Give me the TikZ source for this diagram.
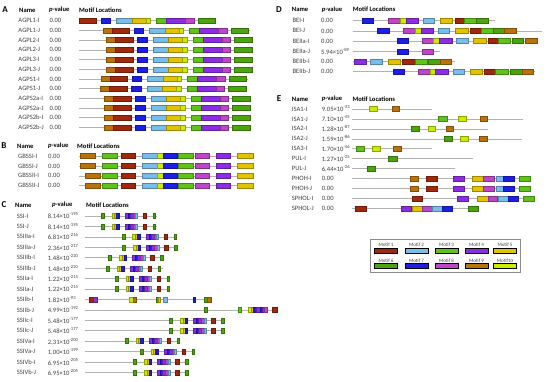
\documentclass[tikz,border=0pt]{standalone}
\usepackage{fontspec}
\setmainfont{Carlito}
\definecolor{m1}{RGB}{160,40,12}
\definecolor{m2}{RGB}{120,190,235}
\definecolor{m3}{RGB}{95,195,25}
\definecolor{m4}{RGB}{140,45,230}
\definecolor{m5}{RGB}{225,195,0}
\definecolor{m6}{RGB}{75,165,15}
\definecolor{m7}{RGB}{30,30,230}
\definecolor{m8}{RGB}{190,70,200}
\definecolor{m9}{RGB}{185,115,10}
\definecolor{m10}{RGB}{205,235,0}
\newcommand{\mot}[4]{\path[motif=m#1] (#3,#2-2.5) rectangle (#4,#2+2.5);}
\newcommand{\bbone}[3]{\draw[backbone] (#2,#1) -- (#3,#1);}
\newcommand{\pv}[2]{#1×10\textsuperscript{-#2}}
\newcommand{\agpcore}[2]{%
  \mot{1}{#1}{#2+9}{#2+26.7}
  \mot{7}{#1}{#2+31.3}{#2+40.7}
  \mot{2}{#1}{#2+46.7}{#2+62.3}
  \mot{5}{#1}{#2+62.3}{#2+76}
  \mot{10}{#1}{#2+76}{#2+80.7}
  \mot{3}{#1}{#2+86.7}{#2+96.7}
  \mot{4}{#1}{#2+96.7}{#2+115.7}
  \mot{8}{#1}{#2+115.7}{#2+124}
  \mot{6}{#1}{#2+128}{#2+145.7}}
\newcommand{\agp}[2]{\bbone{#1}{79}{#2+147}\mot{9}{#1}{#2}{#2+9}\agpcore{#1}{#2}}
\newcommand{\gbss}[2]{%
  \bbone{#1}{79}{253}
  \mot{9}{#1}{#2}{#2+15}
  \mot{3}{#1}{101.7}{116.7}
  \mot{1}{#1}{120.7}{135}
  \mot{2}{#1}{141.7}{156.7}
  \mot{10}{#1}{156.7}{162.7}
  \mot{7}{#1}{162.7}{176.7}
  \mot{3}{#1}{178}{192.7}
  \mot{8}{#1}{195}{209.3}
  \mot{4}{#1}{216}{230}
  \mot{5}{#1}{237.3}{252.7}}
\newcommand{\sscl}[3]{%
  \bbone{#1}{85}{#3}
  \mot{6}{#1}{#2}{#2+3}
  \mot{10}{#1}{#2+10.7}{#2+13.5}
  \mot{5}{#1}{#2+13.5}{#2+15.5}
  \mot{7}{#1}{#2+15.5}{#2+18}
  \mot{4}{#1}{#2+24}{#2+27}
  \mot{7}{#1}{#2+27}{#2+29}
  \mot{4}{#1}{#2+29}{#2+32}
  \mot{8}{#1}{#2+32}{#2+34.5}
  \mot{2}{#1}{#2+34.5}{#2+36.5}
  \mot{1}{#1}{#2+42}{#2+45.3}
  \mot{6}{#1}{#2+52}{#2+54.5}}
\newcommand{\phoh}[1]{%
  \bbone{#1}{352.3}{530}
  \mot{9}{#1}{410}{417.7}
  \mot{1}{#1}{425.7}{436.7}
  \mot{4}{#1}{453.3}{464}
  \mot{5}{#1}{472.3}{483.3}
  \mot{8}{#1}{483.3}{494.3}
  \mot{2}{#1}{495.7}{503.3}
  \mot{7}{#1}{503.3}{514.3}
  \mot{3}{#1}{519}{530}}
\begin{document}
\begin{tikzpicture}[x=1pt, y=-1pt,
    motif/.style={fill=#1, draw=#1!70!black, line width=0.2pt},
    backbone/.style={draw=black!30, line width=0.5pt},
    panel/.style={inner sep=0pt, font=\bfseries\fontsize{9}{10}\selectfont},
    head/.style={anchor=west, inner sep=0pt, font=\bfseries\fontsize{6.6}{7}\selectfont},
    lbl/.style={anchor=west, inner sep=0pt, text=black!75, font=\fontsize{6.6}{7}\selectfont},
    leglbl/.style={inner sep=0pt, text=black!75, font=\fontsize{5}{6}\selectfont},
    legbox/.style={motif=#1, draw=black, line width=0.4pt}]
  \useasboundingbox (0,0) rectangle (550,382);

  \node[panel] (pA) at (5,10) {A};
  \node[head] (nameA) at (19,10) {Name};
  \node[head] (pvA) at (49,10) {\textit{p}-value};
  \node[head] (locA) at (79,10) {Motif Locations};
  \foreach \n [count=\i from 0] in {AGPL1-I,AGPL1-J,AGPL2-I,AGPL2-J,AGPL3-I,AGPL3-J,AGPS1-I,AGPS1-J,AGPS2a-I,AGPS2a-J,AGPS2b-I,AGPS2b-J} {
    \node[lbl] (agp\i) at (18.3,{20.7+9.7*\i}) {\n};
    \node[lbl] (agpv\i) at (49.3,{20.7+9.7*\i}) {0.00};
  }
  \bbone{20.7}{79}{215.4}
  \agpcore{20.7}{69.7}
  \agp{30.4}{102.7}
  \agp{40.1}{106}
  \agp{49.8}{106}
  \agp{59.5}{106}
  \agp{69.2}{106}
  \agp{78.9}{100.7}
  \agp{88.6}{100}
  \agp{98.3}{104}
  \agp{108}{104}
  \agp{117.7}{104}
  \agp{127.4}{104}

  \node[panel] (pB) at (4,146) {B};
  \node[head] (nameB) at (17,146) {Name};
  \node[head] (pvB) at (48,146) {\textit{p}-value};
  \node[head] (locB) at (77,146) {Motif Locations};
  \foreach \n [count=\i from 0] in {GBSSI-I,GBSSI-J,GBSSII-I,GBSSII-J} {
    \node[lbl] (gb\i) at (18,{156+9.9*\i}) {\n};
    \node[lbl] (gbv\i) at (48,{156+9.9*\i}) {0.00};
  }
  \gbss{156}{80}
  \gbss{165.9}{80}
  \gbss{175.8}{85}
  \gbss{185.7}{85}

  \node[panel] (pC) at (4,205) {C};
  \node[head] (nameC) at (15,205) {Name};
  \node[head] (pvC) at (52,205) {\textit{p}-value};
  \node[head] (locC) at (86,205) {Motif Locations};
  \foreach \n/\p [count=\i from 0] in {SSI-I/\pv{8.14}{195},SSI-J/\pv{8.14}{195},SSIIIa-I/\pv{6.81}{216},SSIIIa-J/\pv{2.36}{217},SSIIIb-I/\pv{1.48}{220},SSIIIb-J/\pv{1.48}{220},SSIIa-I/\pv{1.22}{215},SSIIa-J/\pv{1.22}{215},SSIIb-I/\pv{1.82}{93},SSIIb-J/\pv{4.99}{192},SSIIc-I/\pv{5.48}{177},SSIIc-J/\pv{5.48}{177},SSIVa-I/\pv{2.31}{200},SSIVa-J/\pv{1.00}{199},SSIVb-I/\pv{6.95}{205},SSIVb-J/\pv{6.95}{205}} {
    \node[lbl] (ss\i) at (16.7,{216+10.43*\i}) {\n};
    \node[lbl] (ssv\i) at (47.7,{216+10.43*\i}) {\p};
  }
  \sscl{216}{101}{157}
  \sscl{226.4}{101}{157}
  \sscl{236.9}{121.7}{177}
  \sscl{247.3}{122.3}{177}
  \sscl{257.7}{108.3}{163}
  \sscl{268.2}{106}{163}
  \sscl{278.6}{115}{169}
  \sscl{289}{115}{169}
  \bbone{299.4}{85}{207}
  \mot{1}{299.4}{89.3}{93.5}
  \mot{4}{299.4}{93.5}{97.3}
  \mot{10}{299.4}{129.3}{132.7}
  \mot{9}{299.4}{132.7}{136}
  \mot{6}{299.4}{156}{158.5}
  \mot{5}{299.4}{158.5}{160}
  \mot{2}{299.4}{163.3}{166.7}
  \mot{7}{299.4}{193.3}{195.3}
  \mot{6}{299.4}{204}{207}
  \mot{9}{299.4}{207}{210.7}
  \bbone{309.9}{85}{277}
  \mot{6}{309.9}{204}{206.7}
  \mot{3}{309.9}{238.3}{240.7}
  \mot{10}{309.9}{248.3}{251}
  \mot{5}{309.9}{251}{253.3}
  \mot{7}{309.9}{253.3}{256}
  \mot{4}{309.9}{256}{260}
  \mot{7}{309.9}{260}{262}
  \mot{4}{309.9}{262}{264.5}
  \mot{8}{309.9}{264.5}{266.7}
  \mot{1}{309.9}{271.7}{276.7}
  \sscl{320.3}{169.5}{222}
  \sscl{330.7}{169.5}{222}
  \sscl{341.1}{125}{179}
  \sscl{351.6}{140}{193}
  \sscl{362}{133.3}{187}
  \sscl{372.4}{133.3}{187}

  \node[panel] (pD) at (279,9.3) {D};
  \node[head] (nameD) at (291.7,9.3) {Name};
  \node[head] (pvD) at (321.7,9.3) {\textit{p}-value};
  \node[head] (locD) at (352.7,9.3) {Motif Locations};
  \foreach \n/\p [count=\i from 0] in {BEI-I/0.00,BEI-J/0.00,BEIIa-I/0.00,BEIIa-J/\pv{5.94}{89},BEIIb-I/0.00,BEIIb-J/0.00} {
    \node[lbl] (be\i) at (292.3,{20.7+10.2*\i}) {\n};
    \node[lbl] (bev\i) at (321,{20.7+10.2*\i}) {\p};
  }
  \bbone{20.7}{352.7}{495}
  \mot{7}{20.7}{362.3}{373.3}
  \mot{8}{20.7}{388.3}{400}
  \mot{10}{20.7}{400}{405.7}
  \mot{4}{20.7}{405.7}{417.7}
  \mot{2}{20.7}{423.3}{434.3}
  \mot{5}{20.7}{440}{451.7}
  \mot{1}{20.7}{455}{464.3}
  \mot{3}{20.7}{464.3}{476}
  \mot{6}{20.7}{476}{488.3}
  \bbone{30.9}{352.7}{541.7}
  \mot{7}{30.9}{376.7}{389}
  \mot{8}{30.9}{403.3}{415}
  \mot{10}{30.9}{415}{421}
  \mot{4}{30.9}{421}{433.3}
  \mot{2}{30.9}{438.3}{449}
  \mot{5}{30.9}{455}{467.7}
  \mot{1}{30.9}{470}{481}
  \mot{3}{30.9}{481}{493.3}
  \mot{6}{30.9}{493.3}{504.3}
  \mot{9}{30.9}{504.3}{515.7}
  \bbone{41.1}{352.7}{537}
  \mot{7}{41.1}{396.7}{407.7}
  \mot{8}{41.1}{421.7}{433.3}
  \mot{10}{41.1}{433.3}{439}
  \mot{4}{41.1}{439}{451.7}
  \mot{2}{41.1}{456}{467.7}
  \mot{5}{41.1}{473.3}{485.7}
  \mot{1}{41.1}{487.7}{497.7}
  \mot{3}{41.1}{497.7}{510}
  \mot{6}{41.1}{511.7}{523.3}
  \mot{9}{41.1}{525}{536.7}
  \bbone{51.3}{352.7}{440}
  \mot{7}{51.3}{396.7}{407.7}
  \mot{8}{51.3}{422.3}{433.3}
  \bbone{61.5}{352.7}{455}
  \mot{4}{61.5}{354.3}{365.7}
  \mot{2}{61.5}{370}{381.7}
  \mot{5}{61.5}{387.7}{400}
  \mot{1}{61.5}{401.7}{415}
  \mot{3}{61.5}{415}{426.7}
  \mot{6}{61.5}{427.7}{440}
  \mot{9}{61.5}{440}{451}
  \bbone{71.7}{352.7}{535}
  \mot{7}{71.7}{393.3}{404.3}
  \mot{8}{71.7}{418.3}{430}
  \mot{10}{71.7}{430}{435}
  \mot{4}{71.7}{435}{447.7}
  \mot{2}{71.7}{453.3}{464.3}
  \mot{5}{71.7}{470}{481.7}
  \mot{1}{71.7}{484.3}{495}
  \mot{3}{71.7}{495}{508.3}
  \mot{6}{71.7}{510}{522.3}
  \mot{9}{71.7}{522.3}{533.3}

  \node[panel] (pE) at (279,99) {E};
  \node[head] (nameE) at (291.7,99) {Name};
  \node[head] (pvE) at (321.7,99) {\textit{p}-value};
  \node[head] (locE) at (352.3,99) {Motif Locations};
  \foreach \n/\p [count=\i from 0] in {ISA1-I/\pv{9.05}{33},ISA1-J/\pv{7.10}{45},ISA2-I/\pv{1.28}{87},ISA2-J/\pv{1.59}{86},ISA3-I/\pv{1.70}{46},PUL-I/\pv{1.27}{25},PUL-J/\pv{6.44}{26},PHOH-I/0.00,PHOH-J/0.00,SPHOL-I/0.00,SPHOL-J/0.00} {
    \node[lbl] (is\i) at (291.7,{109+9.93*\i}) {\n};
    \node[lbl] (isv\i) at (321.7,{109+9.93*\i}) {\p};
  }
  \bbone{109}{352.3}{431.7}
  \mot{10}{109}{369.3}{376.7}
  \mot{9}{109}{391.7}{399}
  \bbone{118.9}{352.3}{523.3}
  \mot{3}{118.9}{438.3}{446.7}
  \mot{10}{118.9}{458.3}{465.7}
  \mot{9}{118.9}{480}{487.3}
  \bbone{128.9}{352.3}{488.3}
  \mot{6}{128.9}{411}{419}
  \mot{10}{128.9}{427.7}{435}
  \mot{9}{128.9}{445.7}{453.3}
  \bbone{138.8}{352.3}{522.3}
  \mot{6}{138.8}{444.3}{451.7}
  \mot{10}{138.8}{460}{467.7}
  \mot{9}{138.8}{479}{486.7}
  \bbone{148.7}{352.3}{431.7}
  \mot{3}{148.7}{356}{364.3}
  \mot{10}{148.7}{372.3}{380}
  \mot{9}{148.7}{393.3}{401}
  \bbone{158.7}{352.3}{473.3}
  \mot{6}{158.7}{388.3}{396.7}
  \bbone{168.6}{352.3}{455}
  \mot{6}{168.6}{366.7}{375}
  \phoh{178.5}
  \phoh{188.4}
  \bbone{198.4}{352.3}{534.3}
  \mot{1}{198.4}{411.7}{422.3}
  \mot{4}{198.4}{456.7}{467.7}
  \mot{5}{198.4}{476.7}{487.7}
  \mot{8}{198.4}{487.7}{496.7}
  \mot{2}{198.4}{497.7}{507.7}
  \mot{7}{198.4}{507.7}{518.3}
  \mot{3}{198.4}{523.3}{534.3}
  \bbone{208.3}{352.3}{478.3}
  \mot{1}{208.3}{355}{365.7}
  \mot{4}{208.3}{401}{411}
  \mot{5}{208.3}{411.7}{421.7}
  \mot{8}{208.3}{421.7}{431.7}
  \mot{2}{208.3}{431.7}{441.7}
  \mot{7}{208.3}{441.7}{451.7}
  \mot{6}{208.3}{467.7}{478.3}

  \draw[black!45, line width=0.6pt] (370,239.3) rectangle (520,272);
  \foreach \k/\cx in {1/386,2/416.5,3/446.5,4/476.5,5/505} {
    \node[leglbl] (leg\k) at (\cx,244.7) {Motif \k};
    \path[legbox=m\k] (\cx-11.5,248.3) rectangle (\cx+11.5,253.3);
  }
  \foreach \k/\cx in {6/386,7/416.5,8/446.5,9/476.5} {
    \node[leglbl] (leg\k) at (\cx,260.3) {Motif \k};
    \path[legbox=m\k] (\cx-11.5,263.3) rectangle (\cx+11.5,268.3);
  }
  \node[leglbl] (leg10) at (505,260.3) {Motif10};
  \path[legbox=m10] (493.5,263.3) rectangle (516.5,268.3);
\end{tikzpicture}
\end{document}
